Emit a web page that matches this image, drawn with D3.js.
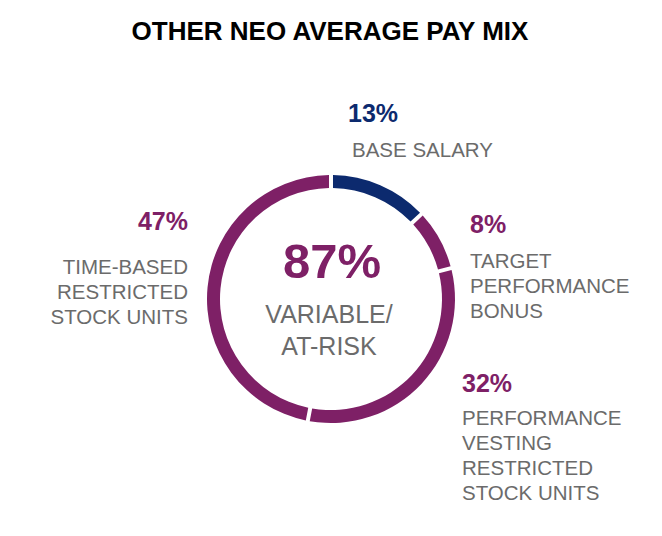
<!DOCTYPE html>
<html>
<head>
<meta charset="utf-8">
<script src="https://cdn.jsdelivr.net/npm/d3@7"></script>
<style>
  body { margin: 0; background: #fff; }
  svg text { font-family: "Liberation Sans", Arial, sans-serif; }
</style>
</head>
<body>
<svg id="chart" width="662" height="536"></svg>
<script>
// chart data
const categories = ["BASE SALARY", "TARGET PERFORMANCE BONUS", "PERFORMANCE VESTING RESTRICTED STOCK UNITS", "TIME-BASED RESTRICTED STOCK UNITS"];
const values = [13, 8, 32, 47];
const labelLines = [
  ["BASE SALARY"],
  ["TARGET", "PERFORMANCE", "BONUS"],
  ["PERFORMANCE", "VESTING", "RESTRICTED", "STOCK UNITS"],
  ["TIME-BASED", "RESTRICTED", "STOCK UNITS"]
];
const centerValue = "87%";
const centerLines = ["VARIABLE/", "AT-RISK"];
const title = "OTHER NEO AVERAGE PAY MIX";

const NAVY = "#0c2a6e";
const PURPLE = "#7e2066";
const GREY = "#6b6b6b";
const colors = [NAVY, PURPLE, PURPLE, PURPLE];

// layout for the labels (pct x/baseline, lines x/first baseline, anchor)
const labelPos = [
  { px: 348, py: 122, lx: 352, ly: 157, anchor: "start" },
  { px: 470, py: 233, lx: 470, ly: 268, anchor: "start" },
  { px: 462, py: 392, lx: 462, ly: 425, anchor: "start" },
  { px: 188, py: 230, lx: 188, ly: 274, anchor: "end" }
];
const lineStep = 25;

const svg = d3.select("#chart");
const cx = 331, cy = 299;
const outerR = 124, innerR = 111;

svg.append("text")
  .attr("x", 330).attr("y", 40)
  .attr("text-anchor", "middle")
  .attr("font-size", 26).attr("font-weight", "bold")
  .attr("fill", "#000")
  .text(title);

const pie = d3.pie().sort(null).value(d => d);
const arc = d3.arc().innerRadius(innerR).outerRadius(outerR).padAngle(0.024);

const g = svg.append("g").attr("transform", `translate(${cx},${cy})`);
g.selectAll("path.slice")
  .data(pie(values))
  .enter().append("path")
  .attr("class", "slice")
  .attr("d", arc)
  .attr("fill", (d, i) => colors[i]);

// center text
g.append("text")
  .attr("x", 1).attr("y", -21)
  .attr("text-anchor", "middle")
  .attr("font-size", 49).attr("font-weight", "bold")
  .attr("fill", PURPLE)
  .text(centerValue);
centerLines.forEach((t, i) => {
  g.append("text")
    .attr("x", -2).attr("y", 24 + i * 32)
    .attr("text-anchor", "middle")
    .attr("font-size", 25)
    .attr("fill", GREY)
    .text(t);
});

// outside labels
const labels = svg.selectAll("g.label")
  .data(values)
  .enter().append("g").attr("class", "label");

labels.append("text")
  .attr("x", (d, i) => labelPos[i].px)
  .attr("y", (d, i) => labelPos[i].py)
  .attr("text-anchor", (d, i) => labelPos[i].anchor)
  .attr("font-size", 25).attr("font-weight", "bold")
  .attr("fill", (d, i) => colors[i])
  .text(d => d + "%");

labels.each(function (d, i) {
  const p = labelPos[i];
  d3.select(this).selectAll("text.line")
    .data(labelLines[i])
    .enter().append("text")
    .attr("class", "line")
    .attr("x", p.lx)
    .attr("y", (t, j) => p.ly + j * lineStep)
    .attr("text-anchor", p.anchor)
    .attr("font-size", 20.5)
    .attr("fill", GREY)
    .text(t => t);
});
</script>
</body>
</html>
